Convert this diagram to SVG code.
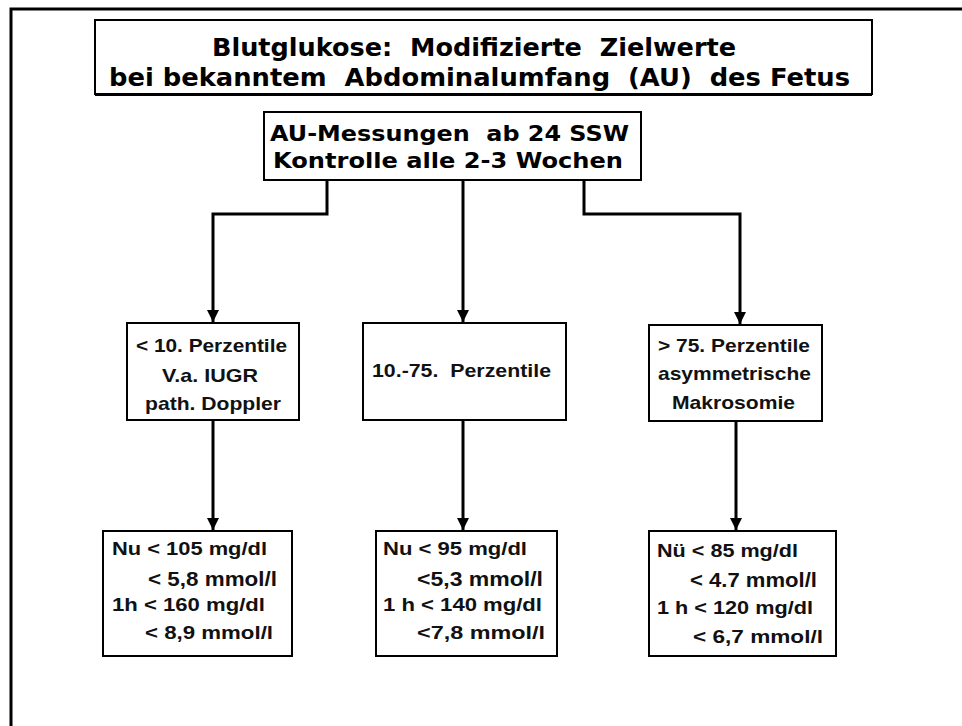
<svg xmlns="http://www.w3.org/2000/svg" width="962" height="726" viewBox="0 0 962 726">
<style>
text{white-space:pre}
.box{fill:#fff;stroke:#000;stroke-width:2}
.t{font-family:"DejaVu Sans","Liberation Sans",sans-serif;font-weight:bold;fill:#000}
.s{font-family:"Liberation Sans","DejaVu Sans",sans-serif;font-weight:bold;fill:#111}
.c{fill:none;stroke:#000;stroke-width:3}
</style>
<defs>
<marker id="ah" markerWidth="4" markerHeight="4" refX="4" refY="2" orient="auto" markerUnits="strokeWidth">
<path d="M0,0 L4,2 L0,4 z" fill="#000"/>
</marker>
</defs>
<rect width="962" height="726" fill="#fff"/>
<path d="M11,726 V9 H962" fill="none" stroke="#000" stroke-width="3"/>

<g id="title">
<rect class="box" x="95" y="20" width="777" height="74"/>
<line x1="95" y1="94.5" x2="872" y2="94.5" stroke="#000" stroke-width="3"/>
<text class="t" x="212" y="56" font-size="24" textLength="524" lengthAdjust="spacingAndGlyphs">Blutglukose:  Modifizierte  Zielwerte</text>
<text class="t" x="109" y="86" font-size="24" textLength="741" lengthAdjust="spacingAndGlyphs">bei bekanntem  Abdominalumfang  (AU)  des Fetus</text>
</g>

<g id="au">
<rect class="box" x="264" y="112" width="377" height="68"/>
<text class="t" x="270" y="141" font-size="21" textLength="359" lengthAdjust="spacingAndGlyphs">AU-Messungen  ab 24 SSW</text>
<text class="t" x="273" y="168" font-size="21" textLength="350" lengthAdjust="spacingAndGlyphs">Kontrolle alle 2-3 Wochen</text>
</g>

<g id="connectors">
<path class="c" d="M327,180 V214 H213 V322" marker-end="url(#ah)"/>
<path class="c" d="M463,180 V322" marker-end="url(#ah)"/>
<path class="c" d="M584,180 V214 H740 V324" marker-end="url(#ah)"/>
<path class="c" d="M213,420 V530" marker-end="url(#ah)"/>
<path class="c" d="M463,420 V530" marker-end="url(#ah)"/>
<path class="c" d="M736,421 V530" marker-end="url(#ah)"/>
</g>

<g id="p10">
<rect class="box" x="127" y="323" width="172" height="97"/>
<text class="s" x="136" y="352" font-size="19" textLength="151" lengthAdjust="spacingAndGlyphs">&lt; 10. Perzentile</text>
<text class="s" x="162" y="382" font-size="19" textLength="96" lengthAdjust="spacingAndGlyphs">V.a. IUGR</text>
<text class="s" x="145" y="410" font-size="19" textLength="136" lengthAdjust="spacingAndGlyphs">path. Doppler</text>
</g>

<g id="p1075">
<rect class="box" x="363" y="323" width="203" height="97"/>
<text class="s" x="372" y="377" font-size="19" textLength="179" lengthAdjust="spacingAndGlyphs">10.-75.  Perzentile</text>
</g>

<g id="p75">
<rect class="box" x="649" y="325" width="173" height="96"/>
<text class="s" x="658" y="352" font-size="19" textLength="152" lengthAdjust="spacingAndGlyphs">&gt; 75. Perzentile</text>
<text class="s" x="658" y="380" font-size="19" textLength="153" lengthAdjust="spacingAndGlyphs">asymmetrische</text>
<text class="s" x="672" y="409" font-size="19" textLength="123" lengthAdjust="spacingAndGlyphs">Makrosomie</text>
</g>

<g id="z1">
<rect class="box" x="103" y="531" width="189" height="125"/>
<text class="s" x="112" y="555" font-size="18" textLength="155" lengthAdjust="spacingAndGlyphs">Nu &lt; 105 mg/dl</text>
<text class="s" x="148" y="586" font-size="20" textLength="129" lengthAdjust="spacingAndGlyphs">&lt; 5,8 mmol/l</text>
<text class="s" x="112" y="611" font-size="18" textLength="153" lengthAdjust="spacingAndGlyphs">1h &lt; 160 mg/dl</text>
<text class="s" x="145" y="639" font-size="18" textLength="128" lengthAdjust="spacingAndGlyphs">&lt; 8,9 mmol/l</text>
</g>

<g id="z2">
<rect class="box" x="376" y="531" width="181" height="125"/>
<text class="s" x="383" y="555" font-size="18" textLength="144" lengthAdjust="spacingAndGlyphs">Nu &lt; 95 mg/dl</text>
<text class="s" x="417" y="586" font-size="20" textLength="126" lengthAdjust="spacingAndGlyphs">&lt;5,3 mmol/l</text>
<text class="s" x="383" y="611" font-size="18" textLength="159" lengthAdjust="spacingAndGlyphs">1 h &lt; 140 mg/dl</text>
<text class="s" x="417" y="639" font-size="18" textLength="128" lengthAdjust="spacingAndGlyphs">&lt;7,8 mmol/l</text>
</g>

<g id="z3">
<rect class="box" x="649" y="531" width="187" height="125"/>
<text class="s" x="657" y="557" font-size="18" textLength="141" lengthAdjust="spacingAndGlyphs">Nü &lt; 85 mg/dl</text>
<text class="s" x="690" y="587" font-size="20" textLength="127" lengthAdjust="spacingAndGlyphs">&lt; 4.7 mmol/l</text>
<text class="s" x="657" y="614" font-size="18" textLength="156" lengthAdjust="spacingAndGlyphs">1 h &lt; 120 mg/dl</text>
<text class="s" x="693" y="643" font-size="18" textLength="130" lengthAdjust="spacingAndGlyphs">&lt; 6,7 mmol/l</text>
</g>
</svg>
